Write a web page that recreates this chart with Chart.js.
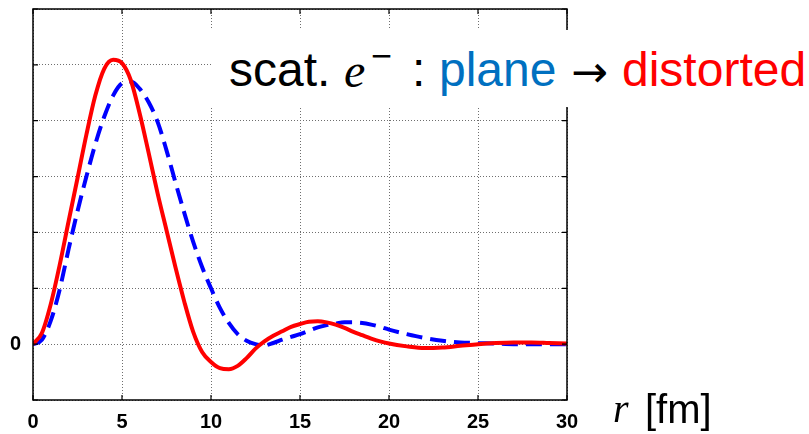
<!DOCTYPE html>
<html>
<head>
<meta charset="utf-8">
<script src="https://cdn.jsdelivr.net/npm/chart.js@4.4.1/dist/chart.umd.min.js"></script>
<style>
  body { margin: 0; background: #fff; }
  #wrap { position: relative; width: 809px; height: 434px; overflow: hidden; }
  #banner { position: absolute; left: 211px; top: 30px; width: 598px; height: 77px; background: #fff; }
  .t { position: absolute; line-height: 1; white-space: pre; }
  .sans { font-family: "Liberation Sans", Arial, sans-serif; }
  .serif { font-family: "Liberation Serif", "Times New Roman", serif; font-style: italic; }
</style>
</head>
<body>
<div id="wrap">
  <canvas id="chart" width="809" height="434"></canvas>
  <div id="banner"></div>
  <span class="t sans" style="font-size:48px; left:229px; top:46px; color:#000">scat.</span>
  <span class="t serif" style="font-size:48px; left:344px; top:47px; color:#000">e</span>
  <span class="t sans" style="font-size:36px; left:371px; top:38px; color:#000">−</span>
  <span class="t sans" style="font-size:48px; left:412px; top:46px; color:#000">:</span>
  <span class="t sans" style="font-size:48px; left:439px; top:46px; color:#0070c0">plane</span>
  <span class="t" style="font-family:'DejaVu Sans'; font-size:44px; left:571px; top:50px; color:#000">→</span>
  <span class="t sans" style="font-size:48px; left:622px; top:46px; color:#ff0000">distorted</span>
  <span class="t serif" style="font-size:40px; left:613px; top:389px; color:#000">r</span>
  <span class="t sans" style="font-size:40px; left:645px; top:389px; color:#000">[fm]</span>
</div>
<script>
// r in fm
const rPoints = [0, 0.5, 1, 1.5, 2, 2.5, 3, 3.5, 4, 4.5, 5, 5.5, 6, 6.5, 7, 7.5, 8, 8.5, 9, 9.5,
  10, 10.5, 11, 11.5, 12, 12.5, 13, 13.5, 14, 14.5, 15, 15.5, 16, 16.5, 17, 17.5, 18, 18.5, 19, 19.5,
  20, 21, 22, 23, 24, 25, 26, 27, 28, 29, 30];

const distorted = [0, 0.2, 0.72, 1.42, 2.2, 2.97, 3.75, 4.45, 4.93, 5.09, 5.03, 4.72, 4.12, 3.42, 2.7, 2.04, 1.38, 0.76, 0.22, -0.14,
  -0.32, -0.43, -0.45, -0.39, -0.25, -0.08, 0.05, 0.15, 0.23, 0.31, 0.36, 0.4, 0.41, 0.39, 0.35, 0.29, 0.22, 0.16, 0.1, 0.05,
  0.01, -0.04, -0.07, -0.06, -0.03, 0, 0.02, 0.03, 0.03, 0.02, 0.01];

const plane = [0, 0.08, 0.42, 0.98, 1.7, 2.38, 3.0, 3.58, 4.07, 4.45, 4.67, 4.7, 4.57, 4.33, 3.98, 3.47, 2.9, 2.35, 1.83, 1.38,
  1.0, 0.65, 0.38, 0.18, 0.06, 0.0, -0.02, 0.02, 0.08, 0.13, 0.18, 0.24, 0.3, 0.34, 0.37, 0.39, 0.39, 0.38, 0.35, 0.31,
  0.26, 0.18, 0.11, 0.06, 0.03, 0.02, 0.01, 0, 0, 0, 0];

const xTicks = [0, 5, 10, 15, 20, 25, 30];
const yTicks = [-1, 0, 1, 2, 3, 4, 5, 6];
const yLabels = ['', '0', '', '', '', '', '', ''];

const toPoints = (xs, ys) => xs.map((x, i) => ({ x: x, y: ys[i] }));

// frame + inward tick marks on all four sides
const frameTicks = {
    id: 'frameTicks',
    afterDatasetsDraw(chart) {
        const { ctx, chartArea: a, scales } = chart;
        ctx.save();
        ctx.strokeStyle = '#000';
        ctx.lineWidth = 1.5;
        ctx.strokeRect(a.left, a.top, a.right - a.left, a.bottom - a.top);
        ctx.lineWidth = 1.2;
        ctx.beginPath();
        xTicks.forEach(v => {
            const px = scales.x.getPixelForValue(v);
            ctx.moveTo(px, a.bottom); ctx.lineTo(px, a.bottom - 5);
            ctx.moveTo(px, a.top); ctx.lineTo(px, a.top + 5);
        });
        yTicks.forEach(v => {
            const py = scales.y.getPixelForValue(v);
            ctx.moveTo(a.left, py); ctx.lineTo(a.left + 5, py);
            ctx.moveTo(a.right, py); ctx.lineTo(a.right - 5, py);
        });
        ctx.stroke();
        ctx.restore();
    }
};

const tickFont = { family: '"Liberation Sans", Arial, sans-serif', size: 20, weight: 'bold' };

new Chart(document.getElementById('chart').getContext('2d'), {
    type: 'line',
    data: {
        datasets: [
            {
                label: 'distorted',
                data: toPoints(rPoints, distorted),
                borderColor: '#ff0000',
                borderWidth: 4,
                pointRadius: 0,
                cubicInterpolationMode: 'monotone',
                fill: false
            },
            {
                label: 'plane',
                data: toPoints(rPoints, plane),
                borderColor: '#0000ff',
                borderWidth: 4,
                borderDash: [16, 8],
                pointRadius: 0,
                cubicInterpolationMode: 'monotone',
                fill: false
            }
        ]
    },
    options: {
        responsive: false,
        animation: false,
        layout: { padding: { top: 9, right: 242, left: 0, bottom: 0 } },
        plugins: { legend: { display: false }, tooltip: { enabled: false } },
        scales: {
            x: {
                type: 'linear',
                min: 0, max: 30,
                afterFit(scale) { scale.height = 34; scale.paddingLeft = 0; scale.paddingRight = 0; },
                afterBuildTicks(scale) { scale.ticks = xTicks.map(v => ({ value: v })); },
                grid: { color: '#6e6e6e', lineWidth: 1, drawTicks: false },
                border: { display: false, dash: [1, 2] },
                ticks: { color: '#000', font: tickFont, padding: 10, maxRotation: 0 }
            },
            y: {
                type: 'linear',
                min: -1, max: 6,
                afterFit(scale) { scale.width = 33; scale.paddingTop = 0; scale.paddingBottom = 0; },
                afterBuildTicks(scale) { scale.ticks = yTicks.map(v => ({ value: v })); },
                grid: { color: '#6e6e6e', lineWidth: 1, drawTicks: false },
                border: { display: false, dash: [1, 2] },
                ticks: {
                    color: '#000', font: tickFont, padding: 12,
                    callback: (v) => yLabels[yTicks.indexOf(v)]
                }
            }
        }
    },
    plugins: [frameTicks]
});
</script>
</body>
</html>
